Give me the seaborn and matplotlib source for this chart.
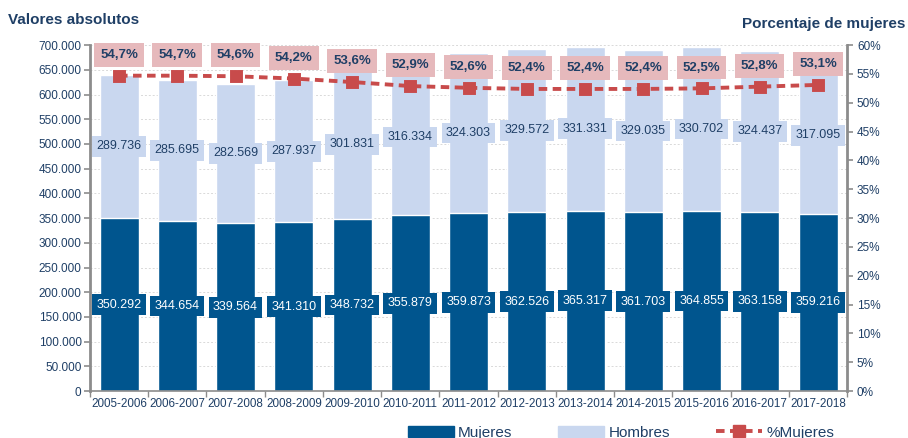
"""Mujeres / Hombres stacked bars with % Mujeres line on a twin axis."""
import matplotlib

matplotlib.use("Agg")
import matplotlib.pyplot as plt
import numpy as np
import pandas as pd
import seaborn as sns
from matplotlib.lines import Line2D
from matplotlib.patches import Patch
from matplotlib.ticker import FuncFormatter, MultipleLocator

cursos = ["2005-2006", "2006-2007", "2007-2008", "2008-2009", "2009-2010",
          "2010-2011", "2011-2012", "2012-2013", "2013-2014", "2014-2015",
          "2015-2016", "2016-2017", "2017-2018"]
mujeres = [350292, 344654, 339564, 341310, 348732, 355879, 359873,
           362526, 365317, 361703, 364855, 363158, 359216]
hombres = [289736, 285695, 282569, 287937, 301831, 316334, 324303,
           329572, 331331, 329035, 330702, 324437, 317095]
pct_mujeres = [54.7, 54.7, 54.6, 54.2, 53.6, 52.9, 52.6,
               52.4, 52.4, 52.4, 52.5, 52.8, 53.1]

DARK = "#00558e"
LIGHT = "#c9d7ef"
RED = "#c84b4b"
PINK = "#e6b9bc"
NAVY = "#1f3f66"
GREY = "#8c8c8c"

df = pd.DataFrame({"curso": cursos, "Mujeres": mujeres, "Hombres": hombres,
                   "pct": pct_mujeres})
df["total"] = df["Mujeres"] + df["Hombres"]

sns.set_theme(style="white")
plt.rcParams["font.family"] = ["Liberation Sans", "DejaVu Sans"]

fig = plt.figure(figsize=(9.08, 4.38), dpi=100)
ax = fig.add_axes([0.099, 0.107, 0.834, 0.79])

# stacked bars: total in light, mujeres on top in dark
sns.barplot(data=df, x="curso", y="total", color=LIGHT, width=0.67,
            saturation=1, ax=ax)
sns.barplot(data=df, x="curso", y="Mujeres", color=DARK, width=0.67,
            saturation=1, ax=ax)

ax.set_ylim(0, 700000)
ax.set_xlim(-0.5, len(cursos) - 0.5)
ax.yaxis.set_major_locator(MultipleLocator(50000))
ax.yaxis.set_major_formatter(FuncFormatter(lambda v, _: f"{int(v):,}".replace(",", ".")))
ax.set_xlabel("")
ax.set_ylabel("")
ax.grid(axis="y", color="#d9d9d9", linestyle=(0, (2, 2)), linewidth=0.7)
ax.set_axisbelow(True)

for i, (m, h) in enumerate(zip(mujeres, hombres)):
    ax.text(i, m / 2, f"{m:,}".replace(",", "."), ha="center", va="center",
            color="white", fontsize=9,
            bbox=dict(boxstyle="square,pad=0.35", fc=DARK, ec="none"))
    ax.text(i, m + h / 2, f"{h:,}".replace(",", "."), ha="center", va="center",
            color=NAVY, fontsize=9,
            bbox=dict(boxstyle="square,pad=0.35", fc=LIGHT, ec="none"))

# x ticks between categories
ax.set_xticks(np.arange(len(cursos)))
ax.set_xticklabels(cursos)
ax.set_xticks(np.arange(-0.5, len(cursos)), minor=True)
ax.tick_params(axis="x", which="major", length=0, labelsize=8.4,
               labelcolor=NAVY, pad=5)
ax.tick_params(axis="x", which="minor", length=4, color=GREY, width=1,
               bottom=True)
ax.tick_params(axis="y", length=4, color=GREY, width=1.2, left=True,
               labelsize=8.5, labelcolor=NAVY, pad=2)

for side in ["top", "right"]:
    ax.spines[side].set_visible(False)
ax.spines["left"].set_color(GREY)
ax.spines["left"].set_linewidth(2)
ax.spines["bottom"].set_color(GREY)
ax.spines["bottom"].set_linewidth(1.2)

# % mujeres on secondary axis
ax2 = ax.twinx()
sns.pointplot(data=df, x="curso", y="pct", color=RED, markers="s",
              linestyles=(0, (2.2, 1.4)), ax=ax2,
              markersize=6.5, linewidth=2.8)
ax2.set_ylim(0, 60)
ax2.set_xlim(-0.5, len(cursos) - 0.5)
ax2.yaxis.set_major_locator(MultipleLocator(5))
ax2.yaxis.set_major_formatter(FuncFormatter(lambda v, _: f"{int(v)}%"))
ax2.set_ylabel("")
ax2.set_xlabel("")
ax2.grid(False)
ax2.tick_params(axis="y", length=4, color=GREY, width=1.2, right=True,
                labelsize=8.5, labelcolor=NAVY, pad=3)
for side in ["top", "left", "bottom"]:
    ax2.spines[side].set_visible(False)
ax2.spines["right"].set_color(GREY)
ax2.spines["right"].set_linewidth(2)

for i, p in enumerate(pct_mujeres):
    ax2.annotate(f"{p:.1f}%".replace(".", ","), (i, p), xytext=(0, 15),
                 textcoords="offset points", ha="center", va="center",
                 fontsize=9.5, fontweight="bold", color=NAVY,
                 bbox=dict(boxstyle="square,pad=0.45", fc=PINK, ec="none"))

fig.text(0.009, 0.955, "Valores absolutos", fontsize=11, fontweight="bold",
         color=NAVY, ha="left", va="center")
fig.text(0.997, 0.945, "Porcentaje de mujeres", fontsize=11, fontweight="bold",
         color=NAVY, ha="right", va="center")

handles = [Patch(color=DARK, label="Mujeres"),
           Patch(color=LIGHT, label="Hombres"),
           Line2D([0], [0], color=RED, linestyle=(0, (2.2, 1.4)), linewidth=2.8,
                  marker="s", markersize=9, label="%Mujeres")]
leg = fig.legend(handles=handles, loc="lower center", bbox_to_anchor=(0.684, -0.035),
                 ncol=3, frameon=False, fontsize=11, handlelength=3.0,
                 handleheight=0.7, columnspacing=3.0, handletextpad=0.3)
for t in leg.get_texts():
    t.set_color(NAVY)

fig.savefig("out.png", dpi=100)
